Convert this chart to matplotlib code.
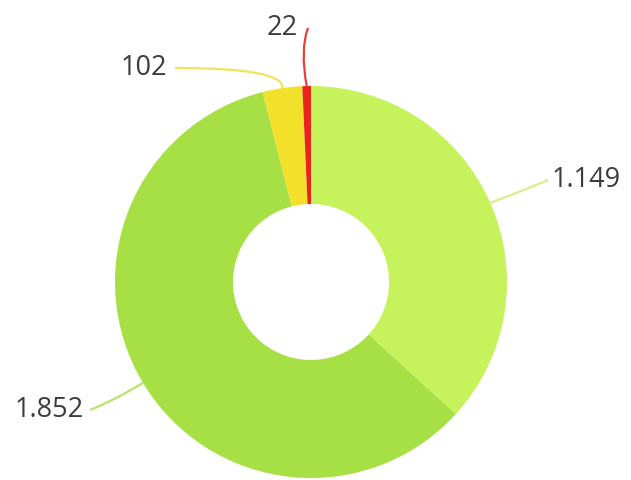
import numpy as np
import matplotlib
matplotlib.use("Agg")
import matplotlib.pyplot as plt
from matplotlib.path import Path
from matplotlib.patches import PathPatch

labels = ["1.149", "1.852", "102", "22"]
values = [1149, 1852, 102, 22]
colors = ["#c6f35c", "#a6e044", "#f2e02a", "#e8241c"]
line_colors = ["#d4f08a", "#b8e46a", "#f2e45a", "#e8403a"]

W, H = 631, 480
fig = plt.figure(figsize=(W / 100, H / 100), dpi=100)
ax = fig.add_axes([0, 0, 1, 1])
ax.set_xlim(0, W)
ax.set_ylim(0, H)
ax.set_aspect("equal")
ax.axis("off")

cx, cy = 311, H - 282
R = 196
ax.pie(values, colors=colors, startangle=90, counterclock=False,
       radius=R, center=(cx, cy),
       wedgeprops=dict(width=R - 78, edgecolor="none", linewidth=0))
ax.set_xlim(0, W)
ax.set_ylim(0, H)

total = sum(values)
cum = 0
anchors = [
    ((525, 190), (548, 180), (552, 180), "left"),
    ((115, 400), (90, 410), (84, 410), "right"),
    ((285, 68), (175, 68), (167, 68), "right"),
    ((300, 50), (308, 28), (298, 28), "right"),
]
for i, v in enumerate(values):
    mid = 90 - (cum + v / 2) / total * 360
    cum += v
    a = np.deg2rad(mid)
    px, py = cx + R * np.cos(a), cy + R * np.sin(a)
    ctrl, end, tpos, ha = anchors[i]
    c = (ctrl[0], H - ctrl[1])
    e = (end[0], H - end[1])
    path = Path([(px, py), c, e], [Path.MOVETO, Path.CURVE3, Path.CURVE3])
    ax.add_patch(PathPatch(path, fc="none", ec=line_colors[i], lw=1.6,
                           zorder=1))
    ax.text(tpos[0], H - tpos[1], labels[i], ha=ha, va="center",
            fontsize=19.5, color="#3c3c3c", family="Open Sans")

fig.savefig("out.png", dpi=100)
